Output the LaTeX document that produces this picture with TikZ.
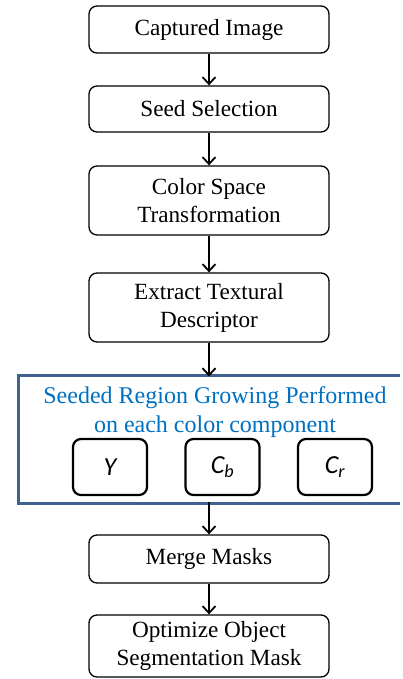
\documentclass[tikz,border=0pt]{standalone}
\usepackage{fontspec}
\setmainfont{Liberation Serif}
\newfontfamily\calibri{Carlito}
\usetikzlibrary{shapes,arrows.meta}
\definecolor{growblue}{RGB}{0,112,192}
\definecolor{frameblue}{RGB}{65,98,143}

\begin{document}
\begin{tikzpicture}[x=1pt,y=-1pt]
  \useasboundingbox (0,0) rectangle (403,679);
  \foreach \y/\h/\nm/\name in {29.5/47/a/Captured Image, 109/46/b/Seed Selection, 200.5/69/c/Color Space\\Transformation, 307.5/69/d/Extract Textural\\Descriptor, 559/48/f/Merge Masks, 646/62/g/Optimize Object\\Segmentation Mask}{
    \node[rectangle, draw, rounded corners=8pt, line width=1.3pt, minimum width=240pt, minimum height=\h pt, align=center, font=\fontsize{23.2}{28}\selectfont] (\nm) at (209,\y) {\name}; }

  % colour components frame (open at the right edge)
  \node[rectangle, minimum width=382pt, minimum height=128pt, outer sep=0pt] (e) at (209,439) {};
  \draw[frameblue, line width=3pt] (e.north east) -- (e.north west) -- (e.south west) -- (e.south east);
  \node[text=growblue, align=center, font=\fontsize{24}{29}\selectfont] (grow) at (215,412) {Seeded Region Growing Performed\\on each color component};
  \foreach \x/\nm/\name in {110/y/Y, 222.5/cb/C\textsubscript{b}, 335/cr/C\textsubscript{r}}{
    \node[rectangle, draw, rounded corners=8pt, line width=2.2pt, minimum width=74pt, minimum height=56pt, font=\calibri\itshape\fontsize{26}{30}\selectfont] (\nm) at (\x,467) {\name}; }

  \foreach \from/\to in {a/b, b/c, c/d, f/g}
    \draw[-{Straight Barb[length=7pt,width=13pt]}, line width=1.8pt] (\from) -- (\to);
  \draw[-{Straight Barb[length=7pt,width=13pt]}, line width=1.8pt] (d) -- ([yshift=-1.5pt]d |- e.north);
  \draw[-{Straight Barb[length=7pt,width=13pt]}, line width=1.8pt] ([yshift=1.5pt]e.south -| f) -- (f);
\end{tikzpicture}
\end{document}
